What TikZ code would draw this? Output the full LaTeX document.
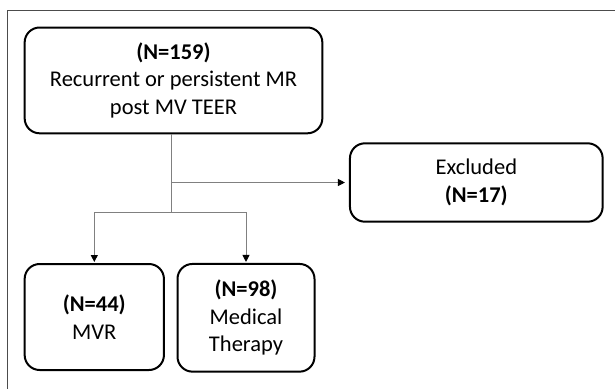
\documentclass[tikz,border=0pt]{standalone}
\usepackage{fontspec}
\setmainfont{Carlito}
\usetikzlibrary{arrows.meta}
\tikzset{
  box/.style={draw=black, line width=2pt, rounded corners=15pt, align=center, inner sep=0pt},
  link/.style={draw=black!50, line width=1pt},
  arr/.style={link, -{Triangle[length=7pt,width=7pt,color=black]}, shorten >=1pt}
}
\begin{document}
\begin{tikzpicture}[x=1pt, y=-1pt, font=\fontsize{22.5}{27.5}\selectfont]
\useasboundingbox (0,0) rectangle (615,388);
\clip (0,0) rectangle (615,388);

% Frame
\draw [draw=black!70, line width=1.5pt] (7.3,10.7) rectangle (640,420);

% Boxes
\node [box, minimum width=297.7pt, minimum height=105.8pt] (total) at (173.5,80.4)
  {\textbf{(N=159)}\\Recurrent or persistent MR\\post MV TEER};
\node [box, minimum width=252.7pt, minimum height=78.4pt] (excl) at (476.3,182.5)
  {Excluded\\\textbf{(N=17)}};
\node [box, minimum width=139.3pt, minimum height=106pt] (mvr) at (94.3,317)
  {\textbf{(N=44)}\\MVR};
\node [box, minimum width=137pt, minimum height=107.7pt] (med) at (246,317.8)
  {\textbf{(N=98)}\\Medical\\Therapy};

% Connectors
\coordinate (split) at (171,212.7);
\draw [link] (total.south -| split) -- (split);
\draw [arr, shorten >=4pt] (split |- excl.west) -- (excl.west);
\draw [arr] (split) -| (mvr.north);
\draw [arr] (split) -| (med.north);
\end{tikzpicture}
\end{document}
